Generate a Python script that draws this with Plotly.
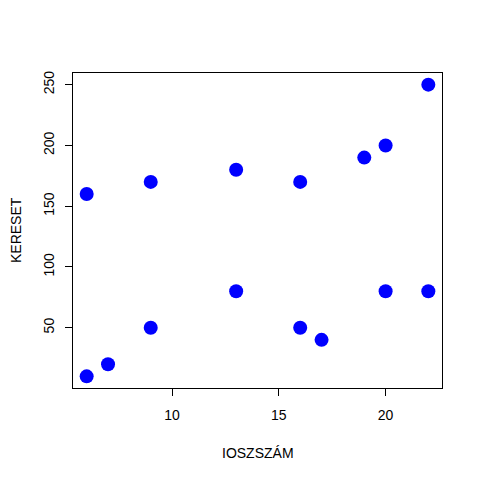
import plotly.graph_objects as go

ioszszam = [6, 7, 9, 13, 16, 17, 20, 22, 6, 9, 13, 16, 19, 20, 22]
kereset = [10, 20, 50, 80, 50, 40, 80, 80, 160, 170, 180, 170, 190, 200, 250]
x_ticks = [10, 15, 20]
y_ticks = [50, 100, 150, 200, 250]

font = "Liberation Sans, Arial, sans-serif"

OFF = 8  # page body offset
L, R, T, B = 73 - OFF, 480 - 442 + OFF, 73 - OFF, 480 - 388 + OFF
pw = 480 - L - R
ph = 480 - T - B


def px(xp):
    return (xp - OFF - L) / pw


def py(yp):
    return (480 - B + OFF - yp) / ph


fig = go.Figure(go.Scatter(
    x=ioszszam, y=kereset, mode="markers",
    marker=dict(color="#0000FF", size=14, line=dict(width=0)),
))

fig.update_layout(
    width=480, height=480,
    margin=dict(l=L, r=R, t=T, b=B),
    paper_bgcolor="white", plot_bgcolor="white",
    showlegend=False,
    font=dict(family=font, size=14, color="black"),
    xaxis=dict(range=[5.36, 22.64], tickvals=x_ticks, showgrid=False, zeroline=False,
               showline=True, mirror=True, linecolor="black", linewidth=1,
               ticks="outside", ticklen=7, tickcolor="black", tickwidth=1,
               ticklabelstandoff=7, automargin=False),
    yaxis=dict(range=[0.4, 259.6], tickvals=y_ticks, showgrid=False, zeroline=False,
               showline=True, mirror=True, linecolor="black", linewidth=1,
               ticks="outside", ticklen=7, tickcolor="black", tickwidth=1,
               tickangle=-90, ticklabelstandoff=5, automargin=False),
    annotations=[
        dict(text="IOSZSZÁM", x=px(258), y=py(453), xref="paper", yref="paper",
             showarrow=False, xanchor="center", yanchor="middle", font=dict(size=14)),
        dict(text="KERESET", x=px(16), y=py(230), xref="paper", yref="paper",
             textangle=-90, showarrow=False, xanchor="center", yanchor="middle",
             font=dict(size=14)),
    ],
)

fig.write_html("out.html")
